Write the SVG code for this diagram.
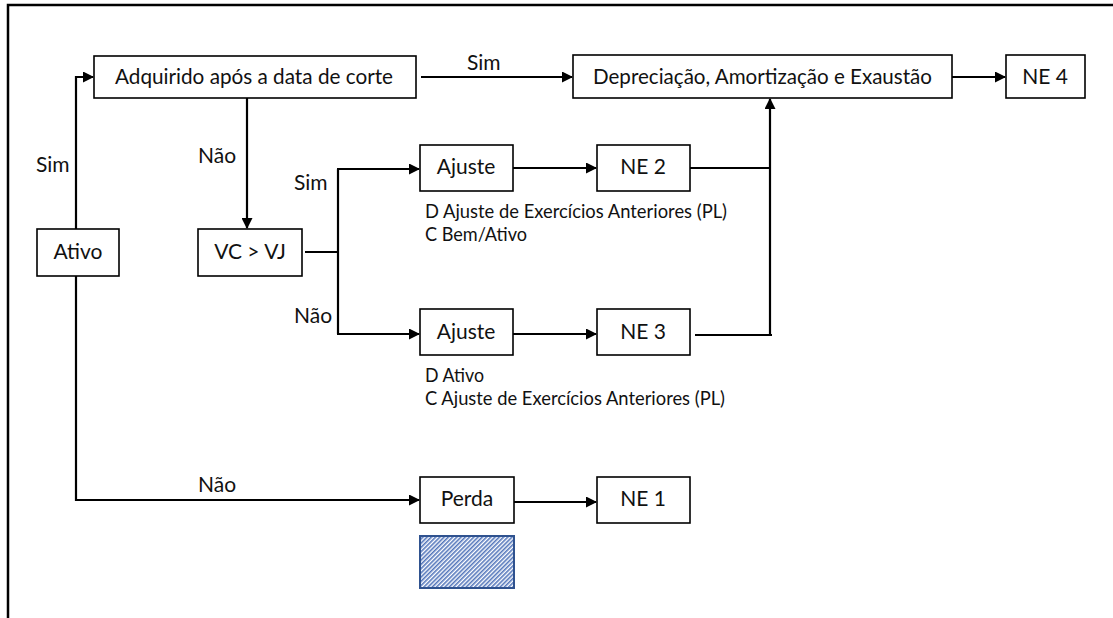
<svg xmlns="http://www.w3.org/2000/svg" width="1113" height="618" viewBox="0 0 1113 618">
<style>
.box{fill:#fff;stroke:#000;stroke-width:1.6}
.t{font-family:Lato,"Liberation Sans",sans-serif;font-size:21px;fill:#111}
.s{font-size:20px}
.c{text-anchor:middle}
.ln{fill:none;stroke:#000;stroke-width:2.2}
</style>
<defs>
<marker id="ah" markerWidth="11" markerHeight="11" refX="10" refY="5.5" orient="auto" markerUnits="userSpaceOnUse">
<path d="M0,0 L11,5.5 L0,11 z" fill="#000"/>
</marker>
<pattern id="hatch" width="3" height="3" patternUnits="userSpaceOnUse" patternTransform="rotate(45)">
<rect width="3" height="3" fill="#fff"/>
<rect width="1.6" height="3" fill="#5577bb"/>
</pattern>
</defs>
<rect width="1113" height="618" fill="#fff"/>
<path d="M8,618 V5 H1113" fill="none" stroke="#000" stroke-width="2.5"/>

<g id="connectors">
<path class="ln" d="M76,229 V77 H93" marker-end="url(#ah)"/>
<path class="ln" d="M421,77 H572" marker-end="url(#ah)"/>
<path class="ln" d="M952,77 H1005" marker-end="url(#ah)"/>
<path class="ln" d="M247,98 V228" marker-end="url(#ah)"/>
<path class="ln" d="M305,252 H338"/>
<path class="ln" d="M338,169 V334"/>
<path class="ln" d="M337,169 H419" marker-end="url(#ah)"/>
<path class="ln" d="M337,334 H419" marker-end="url(#ah)"/>
<path class="ln" d="M513,168 H596" marker-end="url(#ah)"/>
<path class="ln" d="M513,334 H596" marker-end="url(#ah)"/>
<path class="ln" d="M690,168 H770"/>
<path class="ln" d="M695,335 H772"/>
<path class="ln" d="M770,335 V99" marker-end="url(#ah)"/>
<path class="ln" d="M76,276 V500 H419" marker-end="url(#ah)"/>
<path class="ln" d="M514,502 H596" marker-end="url(#ah)"/>
<text class="t" x="36" y="172">Sim</text>
<text class="t" x="467" y="70">Sim</text>
<text class="t" x="198" y="163">Não</text>
<text class="t" x="294" y="190">Sim</text>
<text class="t" x="294" y="323">Não</text>
<text class="t" x="198" y="492">Não</text>
</g>

<g id="ativo">
<rect class="box" x="37" y="229" width="82" height="47"/>
<text class="t c" x="78" y="259">Ativo</text>
</g>
<g id="adquirido">
<rect class="box" x="94" y="56" width="322" height="42"/>
<text class="t" x="115" y="84" textLength="278" lengthAdjust="spacingAndGlyphs">Adquirido após a data de corte</text>
</g>
<g id="depreciacao">
<rect class="box" x="573" y="55" width="379" height="43"/>
<text class="t" x="593" y="84" textLength="339" lengthAdjust="spacingAndGlyphs">Depreciação, Amortização e Exaustão</text>
</g>
<g id="ne4">
<rect class="box" x="1006" y="55" width="79" height="43"/>
<text class="t c" x="1045" y="84">NE 4</text>
</g>
<g id="vcvj">
<rect class="box" x="198" y="229" width="104" height="47"/>
<text class="t c" x="250" y="259">VC &gt; VJ</text>
</g>
<g id="ajuste1">
<rect class="box" x="420" y="145" width="93" height="46"/>
<text class="t c" x="466" y="174">Ajuste</text>
<text class="t s" x="425" y="218" textLength="302" lengthAdjust="spacingAndGlyphs">D Ajuste de Exercícios Anteriores (PL)</text>
<text class="t s" x="425" y="241" textLength="102" lengthAdjust="spacingAndGlyphs">C Bem/Ativo</text>
</g>
<g id="ne2">
<rect class="box" x="597" y="145" width="93" height="46"/>
<text class="t c" x="643" y="174">NE 2</text>
</g>
<g id="ajuste2">
<rect class="box" x="420" y="309" width="93" height="46"/>
<text class="t c" x="466" y="339">Ajuste</text>
<text class="t s" x="425" y="382" textLength="59" lengthAdjust="spacingAndGlyphs">D Ativo</text>
<text class="t s" x="425" y="405" textLength="300" lengthAdjust="spacingAndGlyphs">C Ajuste de Exercícios Anteriores (PL)</text>
</g>
<g id="ne3">
<rect class="box" x="597" y="309" width="93" height="46"/>
<text class="t c" x="643" y="339">NE 3</text>
</g>
<g id="perda">
<rect class="box" x="420" y="477" width="94" height="46"/>
<text class="t c" x="467" y="506">Perda</text>
</g>
<g id="ne1">
<rect class="box" x="597" y="477" width="93" height="46"/>
<text class="t c" x="643" y="506">NE 1</text>
</g>
<g id="hatched">
<rect x="420" y="536" width="94" height="52" fill="url(#hatch)" stroke="#2f528f" stroke-width="2"/>
</g>
</svg>
